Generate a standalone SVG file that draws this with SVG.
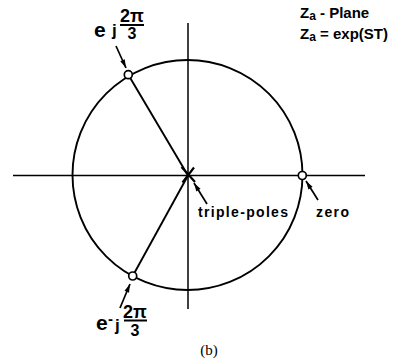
<svg xmlns="http://www.w3.org/2000/svg" width="403" height="359" viewBox="0 0 403 359">
<style>
.ln{stroke:#000;fill:none;stroke-width:1.9}
.ax{stroke:#000;fill:none;stroke-width:1.5}
.mk{stroke:#000;fill:#fff;stroke-width:1.7}
.ar{stroke:#000;stroke-width:1.7;fill:none;marker-end:url(#ah)}
.t{font-family:"Liberation Sans",Arial,sans-serif;font-weight:bold;fill:#000}
.cap{font-family:"Liberation Serif","Times New Roman",serif;fill:#000}
</style>
<defs>
<marker id="ah" viewBox="0 0 12 10" refX="12" refY="5" markerWidth="12" markerHeight="7" markerUnits="userSpaceOnUse" orient="auto">
<path d="M0,1.5 L12,5 L0,8.5 z" fill="#000"/>
</marker>
</defs>
<g id="axes">
<line class="ax" x1="13" y1="175.5" x2="365" y2="175.5"/>
<line class="ax" x1="188" y1="23" x2="188" y2="309"/>
</g>
<g id="unit-circle">
<circle class="ln" cx="187.5" cy="175" r="115"/>
</g>
<g id="connectors">
<line class="ln" x1="188" y1="175.5" x2="128.3" y2="74.7"/>
<line class="ln" x1="188" y1="175.5" x2="132.7" y2="276"/>
<line class="ar" x1="116" y1="46" x2="126" y2="68"/>
<line class="ar" x1="120" y1="308" x2="130" y2="284"/>
<line class="ar" x1="207" y1="204" x2="194" y2="183"/>
<line class="ar" x1="318" y1="200" x2="306" y2="181"/>
</g>
<g id="triple-poles">
<line stroke="#000" stroke-width="2.2" x1="181.5" y1="167" x2="195" y2="182"/>
<line stroke="#000" stroke-width="2.2" x1="194" y1="167.5" x2="182.5" y2="182.5"/>
<text class="t" x="198" y="217" font-size="14" textLength="90" lengthAdjust="spacing">triple-poles</text>
</g>
<g id="zero">
<circle class="mk" cx="302.3" cy="175.5" r="4"/>
<text class="t" x="316" y="217" font-size="14" textLength="33" lengthAdjust="spacing">zero</text>
</g>
<g id="pole-upper">
<circle class="mk" cx="128.3" cy="74.7" r="4"/>
<text class="t" x="94" y="37" font-size="21">e</text>
<text class="t" x="112" y="36" font-size="17">j</text>
<text class="t" x="132" y="22" font-size="18" text-anchor="middle">2π</text>
<line stroke="#000" stroke-width="2" x1="120" y1="25" x2="144" y2="25"/>
<text class="t" x="132" y="38.5" font-size="16" text-anchor="middle">3</text>
</g>
<g id="pole-lower">
<circle class="mk" cx="132.7" cy="276" r="4"/>
<text class="t" x="96" y="330" font-size="21">e</text>
<text class="t" x="108" y="324" font-size="15">-</text>
<text class="t" x="115" y="331" font-size="17">j</text>
<text class="t" x="135" y="318" font-size="18" text-anchor="middle">2π</text>
<line stroke="#000" stroke-width="2" x1="124" y1="320.5" x2="147" y2="320.5"/>
<text class="t" x="135" y="335.5" font-size="16" text-anchor="middle">3</text>
</g>
<g id="legend">
<text class="t" x="300" y="18" font-size="15">Z<tspan font-size="12" dy="2">a</tspan><tspan dy="-2"> - Plane</tspan></text>
<text class="t" x="300" y="39" font-size="15">Z<tspan font-size="12" dy="2">a</tspan><tspan dy="-2"> = exp(ST)</tspan></text>
</g>
<g id="caption">
<text class="cap" x="209" y="355" font-size="15" text-anchor="middle">(b)</text>
</g>
</svg>
